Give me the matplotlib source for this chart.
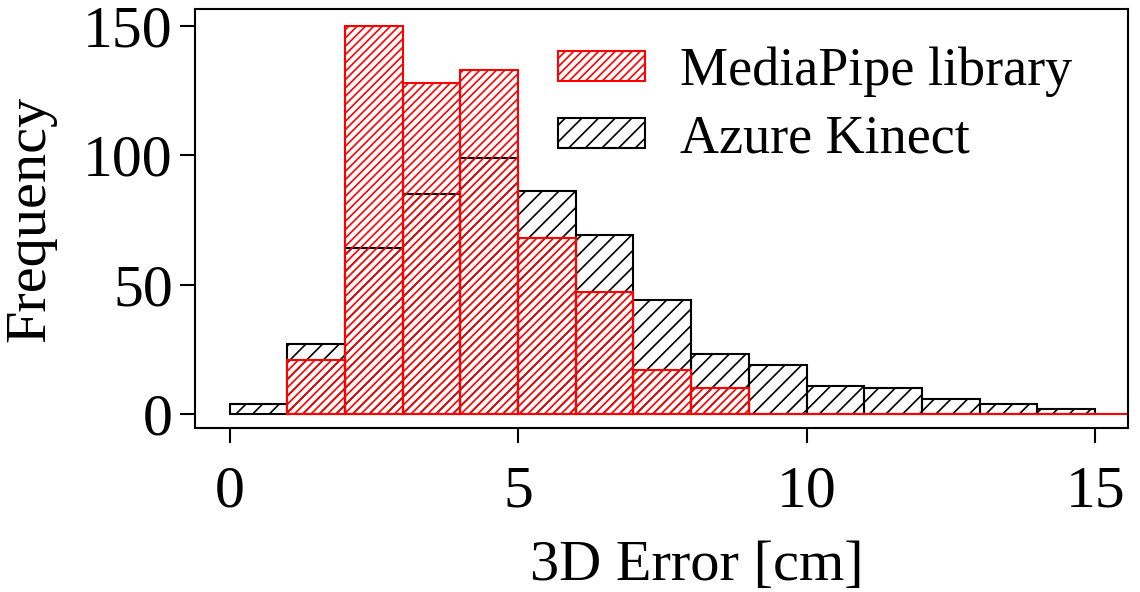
import matplotlib
matplotlib.use('Agg')
from matplotlib import pyplot as plt

plt.rcParams['font.family'] = ['Liberation Serif', 'DejaVu Serif']
plt.rcParams['hatch.linewidth'] = 1.2

# histogram counts per 1 cm bin
azure_edges = list(range(0, 15))
azure_counts = [4, 27, 64, 85, 99, 86, 69, 44, 23, 19, 11, 10, 6, 4, 2]

mp_edges = list(range(1, 20))
mp_counts = [21, 150, 128, 133, 68, 47, 17, 10, 0, 0, 0, 0, 0, 0, 0, 0, 0, 0, 0]

fig = plt.figure(figsize=(11.4, 5.92), dpi=100)
ax = fig.add_axes([0.171, 0.277, 0.8185, 0.708])

ax.bar(azure_edges, azure_counts, width=1, align='edge', color='none',
       edgecolor='black', hatch='//', linewidth=1.5, label='Azure Kinect')
ax.bar(mp_edges, mp_counts, width=1, align='edge', color='none',
       edgecolor='red', hatch='////', linewidth=1.5, label='MediaPipe library')

ax.set_xlim(-0.6, 15.57)
ax.set_ylim(-5.4, 156.5)
ax.set_xticks([0, 5, 10, 15])
ax.set_yticks([0, 50, 100, 150])
ax.tick_params(labelsize=43, length=11, width=1.5, pad=5)
ax.tick_params(axis='x', pad=16)
for s in ax.spines.values():
    s.set_linewidth(1.5)

ax.set_xlabel('3D Error [cm]', fontsize=42, labelpad=15, x=0.538)
ax.set_ylabel('Frequency', fontsize=42, labelpad=19)

h, l = ax.get_legend_handles_labels()
ax.legend(h[::-1], l[::-1], fontsize=39, frameon=False, loc='upper right',
          bbox_to_anchor=(0.981, 1.0), handlelength=1.6, handleheight=0.48,
          handletextpad=0.65, labelspacing=0.3, borderaxespad=0.3)

plt.savefig('out.png')
